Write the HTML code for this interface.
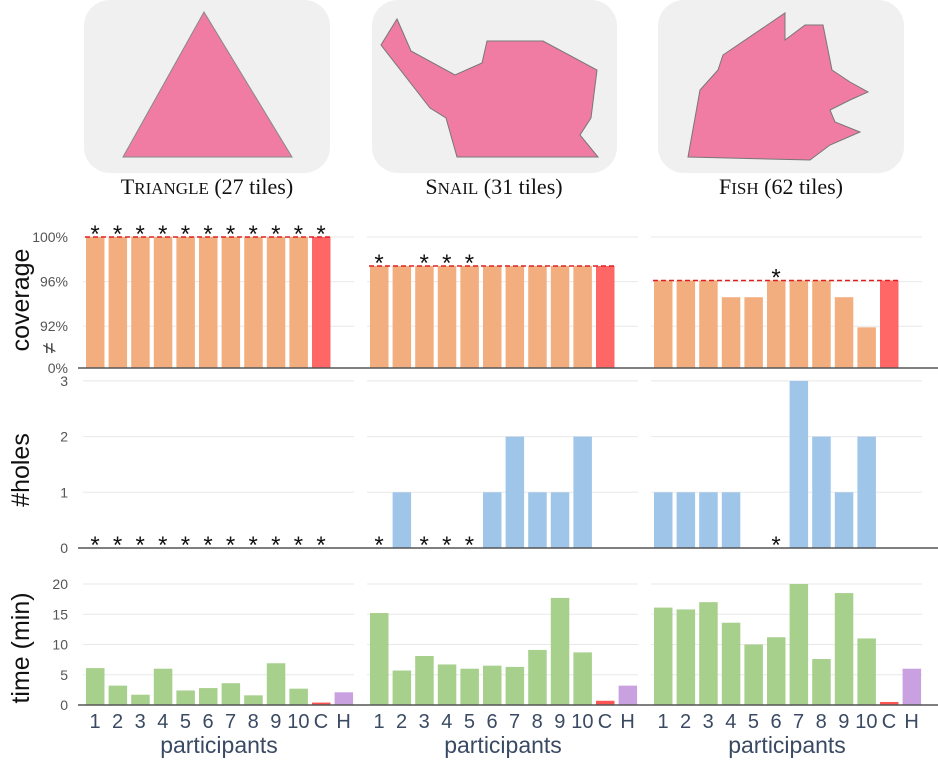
<!DOCTYPE html>
<html><head><meta charset="utf-8"><style>
body{margin:0;background:#fff;width:938px;height:760px;overflow:hidden}
svg{display:block}
</style></head><body>
<svg id="c" width="938" height="760" xmlns="http://www.w3.org/2000/svg">
<g>
<rect x="84" y="0" width="246" height="173" rx="26" fill="#f0f0f0"/>
<polygon points="204,12 123,157 292,157" fill="#f07ca3" stroke="#888" stroke-width="1"/>
<rect x="372" y="0" width="245" height="173" rx="26" fill="#f0f0f0"/>
<polygon points="381,45 397,19 411,51 455,75 482,63 487,41 543,41 597,70 591,118 580,135 598,157 457,157 446,118 430,108" fill="#f07ca3" stroke="#777" stroke-width="1"/>
<rect x="658" y="0" width="246" height="173" rx="26" fill="#f0f0f0"/>
<polygon points="723,55 785,13 785,40 805,25 823,25 832,70 850,82 868,92 850,100 830,110 835,122 860,132 830,145 810,160 688,157 700,90 718,70" fill="#f07ca3" stroke="#777" stroke-width="1"/>
</g>
<g font-family="Liberation Serif, serif" font-size="22" fill="#111" text-anchor="middle">
<text x="207" y="194">T<tspan font-size="17">RIANGLE</tspan> (27 tiles)</text>
<text x="494" y="194">S<tspan font-size="17">NAIL</tspan> (31 tiles)</text>
<text x="781" y="194">F<tspan font-size="17">ISH</tspan> (62 tiles)</text>
</g>
<g id="charts"></g>
</svg>
<script>
const panels = ["triangle","snail","fish"];
const xLabels = ["1","2","3","4","5","6","7","8","9","10","C","H"];
const covTriangle = [100,100,100,100,100,100,100,100,100,100,100];
const covSnail = [97.4,97.4,97.4,97.4,97.4,97.4,97.4,97.4,97.4,97.4,97.4];
const covFish = [96.1,96.1,96.1,94.6,94.6,96.1,96.1,96.1,94.6,91.9,96.1];
const covStars = [[0,1,2,3,4,5,6,7,8,9,10],[0,2,3,4],[5]];
const holesTriangle = [0,0,0,0,0,0,0,0,0,0,0];
const holesSnail = [0,1,0,0,0,1,2,1,1,2,0];
const holesFish = [1,1,1,1,0,0,3,2,1,2,0];
const holesStars = [[0,1,2,3,4,5,6,7,8,9,10],[0,2,3,4],[5]];
const timeTriangle = [6.1,3.2,1.7,6.0,2.4,2.8,3.6,1.6,6.9,2.7,0.4,2.1];
const timeSnail = [15.2,5.7,8.1,6.7,6.0,6.5,6.3,9.1,17.7,8.7,0.7,3.2];
const timeFish = [16.1,15.8,17.0,13.6,10.0,11.2,20.0,7.6,18.5,11.0,0.5,6.0];
const covTicks = [92,96,100];
const holesTicks = [0,1,2,3];
const timeTicks = [0,5,10,15,20];

const cov=[covTriangle,covSnail,covFish], holes=[holesTriangle,holesSnail,holesFish], time=[timeTriangle,timeSnail,timeFish];
const NS="http://www.w3.org/2000/svg", G=document.getElementById('charts');
function mk(tag,attrs,parent){const e=document.createElementNS(NS,tag);for(const k in attrs)e.setAttribute(k,attrs[k]);(parent||G).appendChild(e);return e;}
const SLOT=22.6, BW=18.5;
function px(p,i){return 84+p*284+i*SLOT;}
const yCov=v=>237+(100-v)*11.15;
const yHoles=v=>548-v*55.7;
const yTime=v=>705-v*6.05;
const BASE_COV=368;
const font="Liberation Sans, sans-serif";

function ticks(vals,yf,fmt){
  vals.forEach(v=>{
    const y=yf(v);
    for(let p=0;p<3;p++){
      const l=mk('line',{x1:px(p,0)-1,x2:px(p,0)+270,y1:y,y2:y,stroke:'#e8e8e8','stroke-width':1});
      
      
    }
    const t=mk('text',{x:68,y:y+5,'font-family':font,'font-size':14,fill:'#555','text-anchor':'end'});
    t.textContent=fmt(v);
    
    
  });
}
ticks(covTicks,yCov,v=>v+'%');
ticks(holesTicks,yHoles,v=>''+v);
ticks(timeTicks,yTime,v=>''+v);
let z=mk('text',{x:68,y:373,'font-family':font,'font-size':14,fill:'#555','text-anchor':'end'});z.textContent='0%';


let br=mk('text',{x:50,y:354,'font-family':font,'font-size':20,fill:'#444','text-anchor':'middle',transform:'rotate(-90 50 348)'});br.textContent='≠';



function star(x,y){const s=mk('text',{x:x,y:y,'font-family':font,'font-size':24,fill:'#111','text-anchor':'middle'});s.textContent='*';

}

for(let p=0;p<3;p++){
  cov[p].forEach((v,i)=>{
    const x=px(p,i),y=yCov(v);
    const r=mk('rect',{x:x+2,y:y,width:BW,height:BASE_COV-y,fill:i==10?'#ff6666':'#f3ae80'});
    
    
  });
  const opt=cov[p][10];
  const dl=mk('line',{x1:px(p,0)+1,x2:px(p,11)-1,y1:yCov(opt),y2:yCov(opt),stroke:'#e02020','stroke-width':1.5,'stroke-dasharray':'5,3'});
  
  
  covStars[p].forEach(i=>star(px(p,i)+11,yCov(cov[p][i])+5));
  holes[p].forEach((v,i)=>{
    if(v<=0)return;
    const y=yHoles(v);
    const r=mk('rect',{x:px(p,i)+2,y:y,width:BW,height:548-y,fill:'#9fc5e8'});
    
    
  });
  holesStars[p].forEach(i=>star(px(p,i)+11,yHoles(0)+5));
  time[p].forEach((v,i)=>{
    const y=yTime(v);
    const r=mk('rect',{x:px(p,i)+2,y:y,width:BW,height:705-y,fill:i==10?'#ff5555':(i==11?'#c9a0e0':'#a8d08d')});
    
    
    const t=mk('text',{x:px(p,i)+11,y:728,'font-family':font,'font-size':20,fill:'#3a4a63','text-anchor':'middle'});
    t.textContent=xLabels[i];
    
    
  });
  const xt=mk('text',{x:px(p,0)+135,y:753,'font-family':font,'font-size':23,fill:'#3a4a63','text-anchor':'middle'});
  xt.textContent='participants';
  
  
}
[BASE_COV,548,705].forEach(y=>{
  const a=mk('line',{x1:78,x2:938,y1:y,y2:y,stroke:'#555','stroke-width':1.5});
  
  
});
[['coverage',300],['#holes',470],['time (min)',648]].forEach(([s,y])=>{
  const t=mk('text',{x:0,y:0,'font-family':font,'font-size':25,fill:'#111','text-anchor':'middle',transform:`translate(29 ${y}) rotate(-90)`});
  t.textContent=s;
  
  
});
</script>
</body></html>
